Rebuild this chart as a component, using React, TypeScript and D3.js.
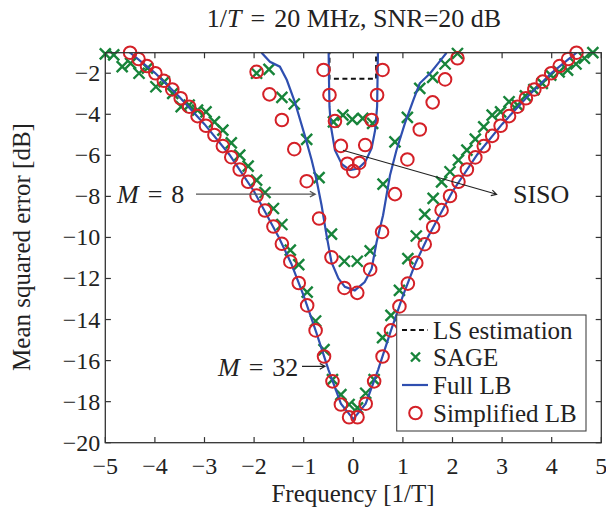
import React, { useRef, useEffect } from "react";
import * as d3 from "d3";

// [frequency, MSE dB] pairs
const lsEst: [number, number][] = [
  [-0.48, 0], [-0.48, -2.27], [0.46, -2.27], [0.46, 0],
];

const sage32: [number, number][] = [
  [-5.0, -1.06], [-4.83, -1.11], [-4.66, -1.68], [-4.49, -1.52], [-4.32, -2.0],
  [-4.15, -1.75], [-3.98, -2.66], [-3.81, -2.41], [-3.64, -2.98], [-3.47, -3.63],
  [-3.31, -3.55], [-3.14, -3.8], [-2.97, -3.88], [-2.8, -4.37], [-2.63, -4.77],
  [-2.46, -5.39], [-2.29, -5.99], [-2.12, -6.53], [-1.95, -7.21], [-1.78, -7.81],
  [-1.61, -8.59], [-1.44, -9.37], [-1.27, -10.62], [-1.1, -11.32], [-0.93, -12.66],
  [-0.76, -14.07], [-0.59, -15.47], [-0.42, -16.93], [-0.25, -17.66], [-0.085, -18.14],
  [0.085, -18.3], [0.25, -17.59], [0.42, -16.93], [0.59, -14.88], [0.76, -13.8],
  [0.93, -12.58], [1.1, -11.03], [1.27, -9.93], [1.44, -8.88], [1.61, -8.1],
  [1.78, -7.29], [1.95, -6.8], [2.12, -6.23], [2.29, -5.75], [2.46, -5.21],
  [2.63, -4.61], [2.8, -4.04], [2.97, -3.88], [3.14, -3.39], [3.31, -3.55],
  [3.47, -3.1], [3.64, -2.8], [3.81, -2.49], [3.98, -2.09], [4.15, -1.93],
  [4.32, -1.85], [4.49, -1.55], [4.66, -1.27], [4.83, -1.0],
];

const fullLb32: [number, number][] = [
  [-4.6, -0.8], [-4.5, -1.0], [-4.0, -1.98], [-3.5, -3.17], [-3.0, -4.48], [-2.5, -5.96],
  [-2.0, -7.76], [-1.5, -10.0], [-1.25, -11.28], [-1.0, -12.85], [-0.75, -14.6],
  [-0.5, -16.45], [-0.25, -18.1], [0, -18.85], [0.25, -18.1], [0.5, -16.45],
  [0.75, -14.6], [1.0, -12.85], [1.25, -11.28], [1.5, -10.0], [2.0, -7.76],
  [2.5, -5.96], [3.0, -4.48], [3.5, -3.17], [4.0, -1.98], [4.5, -1.0], [4.6, -0.8],
];

const simpLb32: [number, number][] = [
  [-4.5, -1.0], [-4.33, -1.31], [-4.16, -1.65], [-3.99, -2.0], [-3.82, -2.37],
  [-3.65, -2.79], [-3.48, -3.22], [-3.31, -3.63], [-3.14, -4.09], [-2.97, -4.56],
  [-2.8, -5.01], [-2.63, -5.55], [-2.46, -6.09], [-2.29, -6.69], [-2.12, -7.29],
  [-1.95, -7.96], [-1.78, -8.69], [-1.61, -9.47], [-1.44, -10.31], [-1.27, -11.18],
  [-1.1, -12.22], [-0.93, -13.31], [-0.76, -14.53], [-0.59, -15.8], [-0.42, -17.01],
  [-0.25, -18.14], [-0.085, -18.76], [0.085, -18.76], [0.25, -18.1], [0.42, -17.01],
  [0.59, -15.8], [0.76, -14.53], [0.93, -13.36], [1.1, -12.25], [1.27, -11.24],
  [1.44, -10.33], [1.61, -9.49], [1.78, -8.67], [1.95, -7.98], [2.12, -7.29],
  [2.29, -6.69], [2.46, -6.1], [2.63, -5.55], [2.8, -5.05], [2.97, -4.56],
  [3.14, -4.09], [3.31, -3.63], [3.48, -3.22], [3.65, -2.79], [3.82, -2.41],
  [3.99, -2.0], [4.16, -1.65], [4.33, -1.31], [4.5, -1.0],
];

const sage8: [number, number][] = [
  [-1.95, -2.0], [-1.7, -1.81], [-1.44, -3.18], [-1.19, -3.5], [-0.94, -5.22],
  [-0.69, -7.09], [-0.44, -9.84], [-0.18, -11.16], [0.08, -11.16], [0.34, -10.65],
  [0.6, -7.4], [0.84, -5.34], [1.09, -4.15], [1.34, -2.74], [1.6, -2.2],
  [1.85, -1.55], [2.1, -1.04],
];

const fullLb8: [number, number][] = [
  [-1.85, -1.0], [-1.68, -1.44], [-1.48, -1.68], [-1.34, -2.33], [-1.18, -3.39],
  [-0.97, -5.1], [-0.84, -6.23], [-0.74, -7.21], [-0.64, -8.43], [-0.54, -9.89],
  [-0.44, -11.2], [-0.3, -12.0], [-0.17, -12.41], [0.03, -12.58], [0.23, -12.17],
  [0.37, -11.52], [0.47, -10.22], [0.6, -8.92], [0.74, -6.97], [0.87, -5.75],
  [1.04, -4.44], [1.21, -3.31], [1.34, -2.49], [1.55, -2.0], [1.71, -1.52], [1.88, -1.0],
];

const simpLb8: [number, number][] = [
  [-1.95, -1.93], [-1.69, -3.03], [-1.44, -4.28], [-1.19, -5.7], [-0.94, -7.26],
  [-0.69, -9.08], [-0.44, -10.97], [-0.18, -12.46], [0.08, -12.7], [0.34, -11.56],
  [0.58, -9.73], [0.84, -7.89], [1.09, -6.2], [1.34, -4.74], [1.6, -3.42],
  [1.85, -2.3], [2.1, -1.27],
];

const sageSiso: [number, number][] = [
  [-0.4, -4.37], [-0.21, -4.04], [-0.02, -4.25], [0.19, -4.2], [0.39, -4.44],
];

const fullLbSiso: [number, number][] = [
  [-0.5, -0.5], [-0.49, -2.33], [-0.48, -3.63], [-0.45, -4.61], [-0.37, -5.75],
  [-0.23, -6.43], [-0.07, -6.72], [0.1, -6.64], [0.24, -6.32], [0.37, -5.65],
  [0.44, -4.77], [0.48, -3.63], [0.5, -0.5],
];

const simpLbSiso: [number, number][] = [
  [-0.6, -1.84], [-0.48, -3.06], [-0.37, -4.33], [-0.25, -5.54], [-0.12, -6.41],
  [0.0, -6.77], [0.12, -6.37], [0.24, -5.5], [0.37, -4.28], [0.48, -3.06], [0.59, -1.84],
];

const xTicks = [-5, -4, -3, -2, -1, 0, 1, 2, 3, 4, 5];
const yTicks = [-20, -18, -16, -14, -12, -10, -8, -6, -4, -2];
const legendLabels = ["LS estimation", "SAGE", "Full LB", "Simplified LB"];

const BLUE = "#2f4fb0";
const GREEN = "#17843a";
const RED = "#d42027";
const FONT = "'Liberation Serif', 'DejaVu Serif', serif";

const App = () => {
  const ref = useRef<SVGSVGElement>(null);

  useEffect(() => {
    const svg = d3.select(ref.current);
    svg.selectAll("*").remove();

    const x = d3.scaleLinear().domain([-5, 5]).range([105.3, 601.3]);
    const y = d3.scaleLinear().domain([-20, -1]).range([442.7, 52.7]);
    const [x0, x1] = x.range();
    const [y0, y1] = y.range();
    const fmt = (v: number) => (v < 0 ? "\u2212" + Math.abs(v) : String(v));

    svg
      .append("defs")
      .append("clipPath")
      .attr("id", "plotclip")
      .append("rect")
      .attr("x", x0)
      .attr("y", y1)
      .attr("width", x1 - x0)
      .attr("height", y0 - y1);

    // frame + inward ticks on all four sides
    const ax = svg.append("g").attr("stroke", "#333").attr("stroke-width", 1.2);
    xTicks.forEach((t) => {
      ax.append("line").attr("x1", x(t)).attr("x2", x(t)).attr("y1", y0).attr("y2", y0 - 5.6);
      ax.append("line").attr("x1", x(t)).attr("x2", x(t)).attr("y1", y1).attr("y2", y1 + 5.6);
    });
    yTicks.forEach((t) => {
      ax.append("line").attr("x1", x0).attr("x2", x0 + 5.6).attr("y1", y(t)).attr("y2", y(t));
      ax.append("line").attr("x1", x1).attr("x2", x1 - 5.6).attr("y1", y(t)).attr("y2", y(t));
    });

    svg
      .append("g")
      .attr("font-family", FONT)
      .attr("font-size", 24)
      .attr("fill", "#222")
      .attr("text-anchor", "middle")
      .selectAll("text")
      .data(xTicks)
      .join("text")
      .attr("x", (d) => x(d))
      .attr("y", 474)
      .text(fmt);

    svg
      .append("g")
      .attr("font-family", FONT)
      .attr("font-size", 24)
      .attr("fill", "#222")
      .attr("text-anchor", "end")
      .selectAll("text")
      .data(yTicks)
      .join("text")
      .attr("x", x0 - 5)
      .attr("y", (d) => y(d) + 8)
      .text(fmt);

    const line = d3
      .line<[number, number]>()
      .x((d) => x(d[0]))
      .y((d) => y(d[1]));

    const plot = svg.append("g");
    const lines = plot.append("g").attr("clip-path", "url(#plotclip)");

    lines
      .append("path")
      .attr("d", line(lsEst))
      .attr("fill", "none")
      .attr("stroke", "#111")
      .attr("stroke-width", 2)
      .attr("stroke-dasharray", "5 3.5");

    const cross = (g: any, data: [number, number][]) => {
      g.append("g")
        .selectAll("path")
        .data(data)
        .join("path")
        .attr("d", (d: [number, number]) => {
          const cx = x(d[0]);
          const cy = y(d[1]);
          const s = 5.5;
          return `M${cx - s},${cy - s}L${cx + s},${cy + s}M${cx - s},${cy + s}L${cx + s},${cy - s}`;
        })
        .attr("stroke", GREEN)
        .attr("stroke-width", 2.4)
        .attr("fill", "none");
    };

    const circles = (g: any, data: [number, number][]) => {
      g.append("g")
        .selectAll("circle")
        .data(data)
        .join("circle")
        .attr("cx", (d: [number, number]) => x(d[0]))
        .attr("cy", (d: [number, number]) => y(d[1]))
        .attr("r", 6.3)
        .attr("fill", "none")
        .attr("stroke", RED)
        .attr("stroke-width", 2);
    };

    [sage32, sage8, sageSiso].forEach((s) => cross(plot, s));
    [fullLb32, fullLb8, fullLbSiso].forEach((s) => {
      plot
        .append("path")
        .attr("clip-path", "url(#plotclip)")
        .attr("d", line(s))
        .attr("fill", "none")
        .attr("stroke", BLUE)
        .attr("stroke-width", 2.2);
    });
    [simpLb32, simpLb8, simpLbSiso].forEach((s) => circles(plot, s));

    // frame on top
    svg
      .append("rect")
      .attr("x", x0)
      .attr("y", y1)
      .attr("width", x1 - x0)
      .attr("height", y0 - y1)
      .attr("fill", "none")
      .attr("stroke", "#333")
      .attr("stroke-width", 1.3);

    // annotations
    const arrow = (fx: number, fy: number, tx: number, ty: number, color: string, w: number) => {
      const a = Math.atan2(ty - fy, tx - fx);
      const h = 6;
      svg
        .append("path")
        .attr(
          "d",
          `M${fx},${fy}L${tx},${ty}` +
            `M${tx - h * Math.cos(a - 0.5)},${ty - h * Math.sin(a - 0.5)}L${tx},${ty}` +
            `L${tx - h * Math.cos(a + 0.5)},${ty - h * Math.sin(a + 0.5)}`
        )
        .attr("fill", "none")
        .attr("stroke", color)
        .attr("stroke-width", w);
    };

    const mLabel = (px: number, py: number, val: string) => {
      const t = svg
        .append("text")
        .attr("x", px)
        .attr("y", py)
        .attr("font-family", FONT)
        .attr("font-size", 26)
        .attr("fill", "#222");
      t.append("tspan").attr("font-style", "italic").text("M");
      t.append("tspan").attr("dx", 9).text("=");
      t.append("tspan").attr("dx", 9).text(val);
    };

    mLabel(117, 203, "8");
    arrow(196, y(-7.89), x(-0.77), y(-7.89), "#555", 1.4);
    mLabel(218, 376, "32");
    arrow(302, y(-16.28), x(-0.57), y(-16.28), "#222", 1.2);
    arrow(x(-0.21), y(-5.75), x(2.89), y(-7.9), "#222", 1.1);
    svg
      .append("text")
      .attr("x", 513)
      .attr("y", 203)
      .attr("font-family", FONT)
      .attr("font-size", 26)
      .attr("fill", "#222")
      .text("SISO");

    // legend
    const lg = svg.append("g");
    lg.append("rect")
      .attr("x", 396.7)
      .attr("y", 315)
      .attr("width", 189.3)
      .attr("height", 116)
      .attr("fill", "white")
      .attr("stroke", "#444")
      .attr("stroke-width", 1.1);
    const rowY = [330, 357, 385, 413];
    lg.append("line")
      .attr("x1", 402).attr("x2", 428).attr("y1", rowY[0]).attr("y2", rowY[0])
      .attr("stroke", "#111").attr("stroke-width", 2).attr("stroke-dasharray", "5 3.5");
    lg.append("path")
      .attr("d", `M411,${rowY[1] - 4.5}l9,9M411,${rowY[1] + 4.5}l9,-9`)
      .attr("stroke", GREEN).attr("stroke-width", 2.4);
    lg.append("line")
      .attr("x1", 402).attr("x2", 428).attr("y1", rowY[2]).attr("y2", rowY[2])
      .attr("stroke", BLUE).attr("stroke-width", 2.2);
    lg.append("circle")
      .attr("cx", 415.5).attr("cy", rowY[3]).attr("r", 6.3)
      .attr("fill", "none").attr("stroke", RED).attr("stroke-width", 2);
    lg.selectAll("text.lab")
      .data(legendLabels)
      .join("text")
      .attr("class", "lab")
      .attr("x", 433)
      .attr("y", (d, i) => rowY[i] + 8.5)
      .attr("font-family", FONT)
      .attr("font-size", 25)
      .attr("fill", "#222")
      .text((d) => d);

    // axis labels and title
    svg
      .append("text")
      .attr("x", 353)
      .attr("y", 502)
      .attr("text-anchor", "middle")
      .attr("font-family", FONT)
      .attr("font-size", 25)
      .attr("fill", "#222")
      .text("Frequency [1/T]");

    svg
      .append("text")
      .attr("transform", "translate(30,247) rotate(-90)")
      .attr("text-anchor", "middle")
      .attr("font-family", FONT)
      .attr("font-size", 25)
      .attr("fill", "#222")
      .text("Mean squared error [dB]");

    const title = svg
      .append("text")
      .attr("x", 354)
      .attr("y", 27)
      .attr("text-anchor", "middle")
      .attr("font-family", FONT)
      .attr("font-size", 26)
      .attr("fill", "#222");
    title.append("tspan").text("1/");
    title.append("tspan").attr("font-style", "italic").text("T");
    title.append("tspan").attr("dx", 9).text("=");
    title.append("tspan").attr("dx", 9).text("20 MHz, SNR=20 dB");
  }, []);

  return (
    <svg
      ref={ref}
      width={606}
      height={514}
      style={{ position: "absolute", left: 0, top: 0, background: "white" }}
    />
  );
};

export default App;
